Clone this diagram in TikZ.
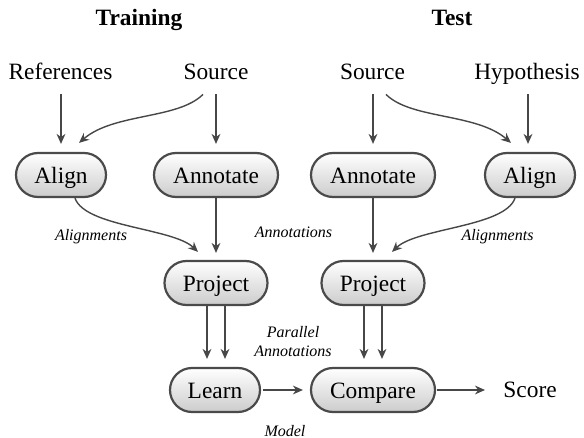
\documentclass[tikz,border=0pt]{standalone}
\usepackage{fontspec}
\setmainfont{Liberation Serif}
\usetikzlibrary{arrows.meta,calc}
\definecolor{arrcol}{HTML}{474747}
\definecolor{boxline}{HTML}{4A4A4A}
\begin{document}
\begin{tikzpicture}[x=0.5pt,y=-0.5pt,
  box/.style={draw=boxline, line width=1.1pt, rounded corners=11pt, minimum height=22pt,
    inner sep=0pt, text height=8.5pt, text depth=0pt, top color=white, bottom color=black!20,
    font=\fontsize{11.7}{13}\selectfont},
  txt/.style={inner sep=0pt, anchor=base, text depth=0pt, font=\fontsize{11.7}{13}\selectfont},
  ttl/.style={inner sep=0pt, anchor=base, font=\fontsize{11.7}{13}\selectfont\bfseries},
  lbl/.style={inner sep=0pt, anchor=base, font=\fontsize{8}{9.5}\selectfont\itshape},
  arr/.style={draw=arrcol, line width=0.7pt, -{Stealth[length=5pt,width=4.4pt,inset=1.6pt]}},
]
\useasboundingbox (0,0) rectangle (584,438);

% titles
\node[ttl] (ttrain) at (139,26) {Training};
\node[ttl] (ttest) at (452,26) {Test};

% inputs
\node[txt] (ref) at (60.5,80) {References};
\node[txt] (srcL) at (216,80) {Source};
\node[txt] (srcR) at (372.5,80) {Source};
\node[txt] (hyp) at (527,80) {Hypothesis};

% boxes
\node[box, minimum width=45pt] (alignL) at (61,175) {Align};
\node[box, minimum width=62pt] (annotL) at (216,175) {Annotate};
\node[box, minimum width=62pt] (annotR) at (373,175) {Annotate};
\node[box, minimum width=45pt] (alignR) at (530,175) {Align};
\node[box, minimum width=51.5pt] (projL) at (216,283) {Project};
\node[box, minimum width=51.5pt] (projR) at (373,283) {Project};
\node[box, minimum width=45pt] (learn) at (215,390) {Learn};
\node[box, minimum width=62pt] (compare) at (373,390) {Compare};
\node[txt, anchor=base west] (score) at (503,398) {Score};

% straight input arrows
\draw[arr, shorten <=7pt, shorten >=4pt] (ref.south -| alignL.north) -- (alignL.north);
\draw[arr, shorten <=7pt, shorten >=4pt] (srcL.south -| annotL.north) -- (annotL.north);
\draw[arr, shorten <=7pt, shorten >=4pt] (srcR.south -| annotR.north) -- (annotR.north);
\draw[arr, shorten <=7pt, shorten >=4pt] ([xshift=-1pt]hyp.south -| alignR.north) -- ([xshift=-1pt]alignR.north);

% curved input arrows
\draw[arr] ($(srcL.south)+(-13,14)$) .. controls +(-25,25) and +(35,-30) .. ($(alignL.north)+(18,-9)$);
\draw[arr] ($(srcR.south)+(13.5,14)$) .. controls +(25,25) and +(-35,-30) .. ($(alignR.north)+(-19,-9)$);

% annotate -> project
\draw[arr, shorten >=3.5pt] (annotL.south) -- (projL.north);
\draw[arr, shorten >=3.5pt] (annotR.south) -- (projR.north);

% align -> project
\draw[arr] ($(alignL.south)+(14,0)$) .. controls +(10,29) and +(-25,-24) .. ($(projL.north)+(-18,-8)$);
\draw[arr] ($(alignR.south)+(-15,0)$) .. controls +(-10,29) and +(25,-24) .. ($(projR.north)+(19,-8)$);

% project -> learn / compare (double)
\draw[arr, shorten >=4pt] ([xshift=-4.5pt]projL.south) -- ([xshift=-4.5pt]projL.south |- learn.north);
\draw[arr, shorten >=4pt] ([xshift=4.5pt]projL.south) -- ([xshift=4.5pt]projL.south |- learn.north);
\draw[arr, shorten >=4pt] ([xshift=-4.5pt]projR.south) -- ([xshift=-4.5pt]projR.south |- compare.north);
\draw[arr, shorten >=4pt] ([xshift=4.5pt]projR.south) -- ([xshift=4.5pt]projR.south |- compare.north);

% learn -> compare -> score
\draw[arr, shorten <=1pt, shorten >=3.5pt] (learn.east) -- (compare.west);
\draw[arr, shorten <=0.5pt] (compare.east) -- ([xshift=-9pt]score.west |- compare.east);

% labels
\node[lbl] (lAlL) at (91,241) {Alignments};
\node[lbl] (lAnn) at (293.5,238) {Annotations};
\node[lbl] (lAlR) at (497.5,241) {Alignments};
\node[lbl] (lPar1) at (293,338) {Parallel};
\node[lbl] (lPar2) at (293,357) {Annotations};
\node[lbl] (lMod) at (285,436.5) {Model};
\end{tikzpicture}
\end{document}
